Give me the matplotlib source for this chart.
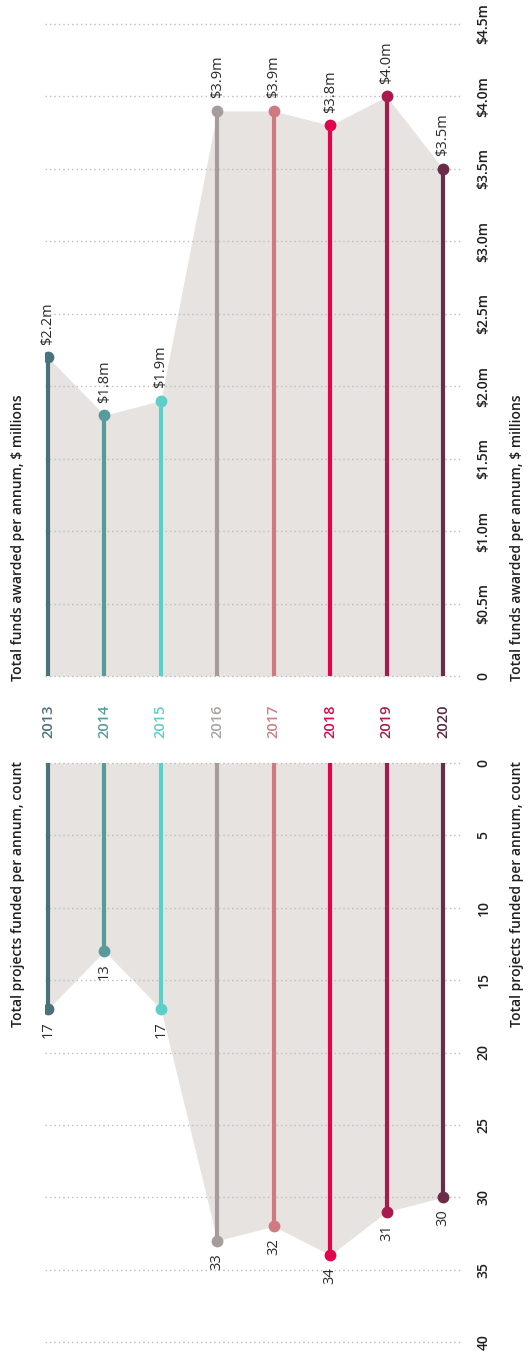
import matplotlib
matplotlib.use("Agg")
import matplotlib.pyplot as plt
import matplotlib.transforms as mtransforms
import numpy as np

# ---- data ----
years = ["2013", "2014", "2015", "2016", "2017", "2018", "2019", "2020"]
funds_millions = [2.2, 1.8, 1.9, 3.9, 3.9, 3.8, 4.0, 3.5]
projects_count = [17, 13, 17, 33, 32, 34, 31, 30]
year_colors = ["#4a727a", "#579c9a", "#5ccfc8", "#a59d9c",
               "#cf7a80", "#e0044d", "#a91a4c", "#6a2c48"]
label_colors = ["#4a727a", "#579c9a", "#5ccfc8", "#aaa3a2",
                "#d07f85", "#e0044d", "#a91a4c", "#5a2840"]

funds_ticks = [0, 0.5, 1.0, 1.5, 2.0, 2.5, 3.0, 3.5, 4.0, 4.5]
funds_tick_labels = ["0", "$0.5m", "$1.0m", "$1.5m", "$2.0m", "$2.5m",
                     "$3.0m", "$3.5m", "$4.0m", "$4.5m"]
count_ticks = [0, 5, 10, 15, 20, 25, 30, 35, 40]
count_tick_labels = [str(t) for t in count_ticks]

funds_title = "Total funds awarded per annum, $ millions"
count_title = "Total projects funded per annum, count"

# ---- style ----
plt.rcParams["font.family"] = ["Open Sans", "DejaVu Sans"]
TEXT = "#1f1f1f"
FILL = "#e7e3e1"
GRID = "#bdbdbd"

W, H = 532, 1357
fig = plt.figure(figsize=(W / 100, H / 100), dpi=100)
fig.patch.set_facecolor("white")


def fx(px):
    return px / W


def fy(py):
    return 1 - py / H


x = np.arange(len(years))
xlim = (-0.053, 7.30)

# funds panel (top), values grow upward
ax_f = fig.add_axes([fx(45), fy(676), fx(460) - fx(45), fy(24) - fy(676)])
# counts panel (bottom), values grow downward
ax_c = fig.add_axes([fx(45), fy(1342), fx(460) - fx(45), fy(763) - fy(1342)])

for ax, vals, ticks, tlabels, ylim, sign, fmt in [
    (ax_f, funds_millions, funds_ticks, funds_tick_labels, (0, 4.5), 1,
     lambda v: f"${v:.1f}m"),
    (ax_c, projects_count, count_ticks, count_tick_labels, (40, 0), -1,
     lambda v: f"{v}"),
]:
    ax.set_xlim(*xlim)
    ax.set_ylim(*ylim)
    ax.patch.set_alpha(0)
    for s in ax.spines.values():
        s.set_visible(False)
    ax.set_xticks([])
    ax.yaxis.tick_right()
    ax.set_yticks(ticks)
    ax.set_yticklabels(tlabels, rotation=90, va="center", fontsize=10,
                       fontweight="semibold", color=TEXT)
    ax.tick_params(axis="y", length=0, pad=12)
    ax.yaxis.grid(True, linestyle=(0, (1, 2.2)), color=GRID, linewidth=1.0,
                  zorder=1)
    for gl in ax.get_ygridlines():
        gl.set_clip_on(False)
    ax.set_axisbelow(False)

    ax.fill_between(x, 0, vals, color=FILL, lw=0, zorder=0.5)
    for i, v in enumerate(vals):
        ax.plot([x[i], x[i]], [0, v], color=year_colors[i], lw=3,
                solid_capstyle="butt", zorder=3)
        ax.plot(x[i], v, "o", color=year_colors[i], ms=8.5, mec="none",
                zorder=4)
        ax.annotate(fmt(v), (x[i], v), xytext=(0, 9 * sign),
                    textcoords="offset points", rotation=90, ha="center",
                    va="bottom" if sign > 0 else "top", fontsize=10.5,
                    color="#2a2a2a", annotation_clip=False)

# year labels between the two panels
tr = mtransforms.blended_transform_factory(ax_f.transData, fig.transFigure)
for i, yr in enumerate(years):
    ax_f.text(x[i], fy(721), yr, transform=tr, rotation=90, ha="center",
              va="center", fontsize=10.5, fontweight="semibold",
              color=label_colors[i], clip_on=False)

# axis titles on both sides
for px in (18, 517):
    fig.text(fx(px), fy(681), funds_title, rotation=90, ha="center",
             va="bottom", fontsize=10, fontweight="semibold", color=TEXT)
    fig.text(fx(px), fy(761), count_title, rotation=90, ha="center",
             va="top", fontsize=10, fontweight="semibold", color=TEXT)

fig.savefig("out.png", dpi=100, facecolor="white")
